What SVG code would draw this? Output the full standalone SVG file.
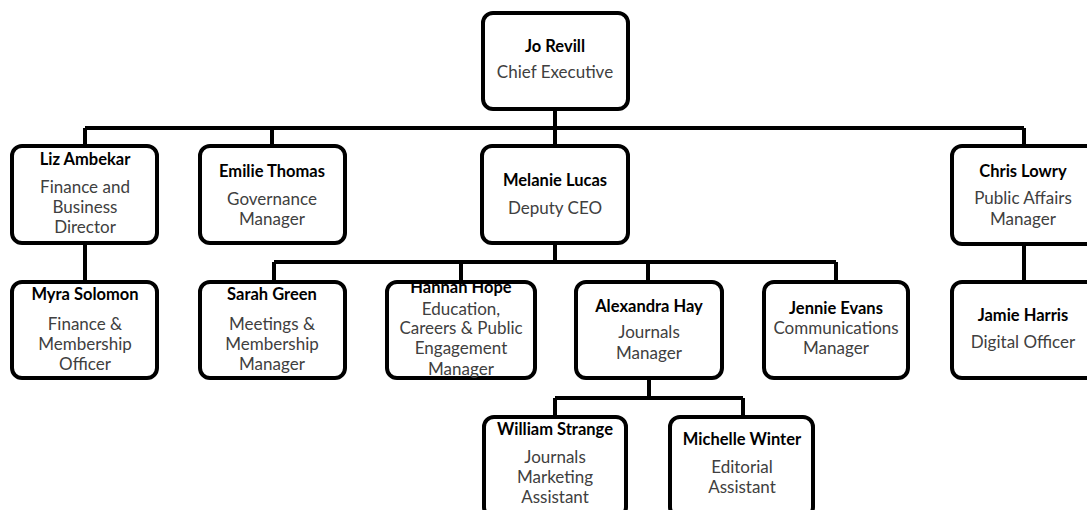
<svg xmlns="http://www.w3.org/2000/svg" width="1087" height="510" viewBox="0 0 1087 510">
<style>
.box{fill:#fff;stroke:#000;stroke-width:4}
.ln{fill:none;stroke:#000;stroke-width:4}
text{font-family:Lato,"Liberation Sans",sans-serif;font-size:17px;text-anchor:middle}
.n{font-weight:bold;fill:#000;font-size:16.5px}
.r{fill:#404040}
</style>
<rect width="1087" height="510" fill="#fff"/>
<g id="connectors">
<path class="ln" d="M555 109V128M85 128H1024M85 128V146M272 128V146M555 128V146M1024 128V146"/>
<path class="ln" d="M85 243V282M1024 244V282"/>
<path class="ln" d="M555 243V262M274 262H836M274 262V282M461 262V282M648 262V282M836 262V282"/>
<path class="ln" d="M649 378V398M555 398H743M555 398V417M743 398V417"/>
</g>
<g id="jo"><rect class="box" x="483" y="13" width="145" height="96" rx="10"/><text class="n" x="555" y="52">Jo Revill</text><text class="r" x="555" y="78">Chief Executive</text></g>
<g id="liz"><rect class="box" x="12" y="146" width="145" height="97" rx="10"/><text class="n" x="85" y="165">Liz Ambekar</text><text class="r" x="85" y="193">Finance and</text><text class="r" x="85" y="213">Business</text><text class="r" x="85" y="233">Director</text></g>
<g id="emilie"><rect class="box" x="200" y="146" width="145" height="97" rx="10"/><text class="n" x="272" y="177">Emilie Thomas</text><text class="r" x="272" y="205">Governance</text><text class="r" x="272" y="225">Manager</text></g>
<g id="melanie"><rect class="box" x="482" y="146" width="146" height="97" rx="10"/><text class="n" x="555" y="186">Melanie Lucas</text><text class="r" x="555" y="214">Deputy CEO</text></g>
<g id="chris"><rect class="box" x="952" y="146" width="145" height="98" rx="10"/><text class="n" x="1023" y="177">Chris Lowry</text><text class="r" x="1023" y="204">Public Affairs</text><text class="r" x="1023" y="225">Manager</text></g>
<g id="myra"><rect class="box" x="12" y="282" width="145" height="96" rx="10"/><text class="n" x="85" y="300">Myra Solomon</text><text class="r" x="85" y="330">Finance &amp;</text><text class="r" x="85" y="350">Membership</text><text class="r" x="85" y="370">Officer</text></g>
<g id="sarah"><rect class="box" x="200" y="282" width="145" height="96" rx="10"/><text class="n" x="272" y="300">Sarah Green</text><text class="r" x="272" y="330">Meetings &amp;</text><text class="r" x="272" y="350">Membership</text><text class="r" x="272" y="370">Manager</text></g>
<g id="hannah"><rect class="box" x="387" y="282" width="148" height="96" rx="10"/><text class="n" x="461" y="293">Hannah Hope</text><text class="r" x="461" y="315">Education,</text><text class="r" x="461" y="334">Careers &amp; Public</text><text class="r" x="461" y="354">Engagement</text><text class="r" x="461" y="375">Manager</text></g>
<g id="alexandra"><rect class="box" x="576" y="282" width="146" height="96" rx="10"/><text class="n" x="649" y="312">Alexandra Hay</text><text class="r" x="649" y="338">Journals</text><text class="r" x="649" y="359">Manager</text></g>
<g id="jennie"><rect class="box" x="764" y="282" width="144" height="96" rx="10"/><text class="n" x="836" y="314">Jennie Evans</text><text class="r" x="836" y="334">Communications</text><text class="r" x="836" y="354">Manager</text></g>
<g id="jamie"><rect class="box" x="952" y="282" width="145" height="96" rx="10"/><text class="n" x="1023" y="321">Jamie Harris</text><text class="r" x="1023" y="348">Digital Officer</text></g>
<g id="william"><rect class="box" x="484" y="417" width="142" height="100" rx="10"/><text class="n" x="555" y="435">William Strange</text><text class="r" x="555" y="463">Journals</text><text class="r" x="555" y="483">Marketing</text><text class="r" x="555" y="503">Assistant</text></g>
<g id="michelle"><rect class="box" x="670" y="417" width="143" height="100" rx="10"/><text class="n" x="742" y="445">Michelle Winter</text><text class="r" x="742" y="473">Editorial</text><text class="r" x="742" y="493">Assistant</text></g>
</svg>
